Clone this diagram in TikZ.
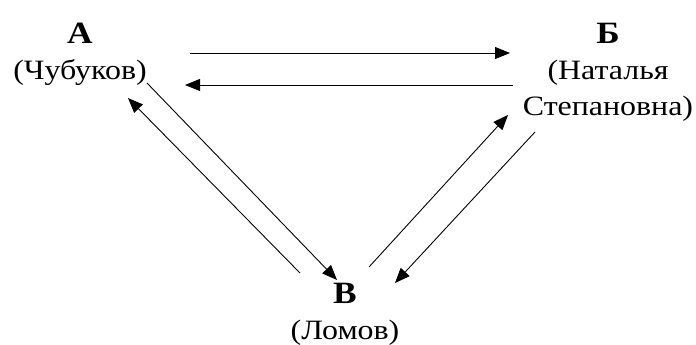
\documentclass[tikz,border=0pt]{standalone}
\usepackage{fontspec}
\setmainfont{Liberation Serif}[FakeStretch=1.14]
\usetikzlibrary{arrows.meta}
\newcommand{\rolemark}[1]{{\fontsize{31}{36}\selectfont\textbf{#1}}}

\begin{document}
\begin{tikzpicture}[
  x=1pt, y=-1pt,
  person/.style={align=center, inner sep=0pt, font=\fontsize{28}{36}\selectfont},
  link/.style={line width=0.9pt, -{Triangle[length=15pt, width=12pt]}}
]
\useasboundingbox (0,0) rectangle (696,345);

% Characters
\node[person] (A) at (80, 54) {\rolemark{А}\\(Чубуков)};
\node[person] (B) at (608, 72) {\rolemark{Б}\\(Наталья\\Степановна)};
\node[person] (V) at (345, 314.5) {\rolemark{В}\\(Ломов)};

% Arrow ends
\coordinate (ab1) at (190, 53);  \coordinate (ab2) at (510, 53);
\coordinate (ba1) at (513, 85);  \coordinate (ba2) at (185, 85);
\coordinate (av1) at (147, 83);  \coordinate (av2) at (337, 280);
\coordinate (va1) at (300, 273); \coordinate (va2) at (128, 98);
\coordinate (vb1) at (369, 267); \coordinate (vb2) at (508, 115);
\coordinate (bv1) at (535, 132); \coordinate (bv2) at (395, 283);

% Relations
\draw[link] (ab1) -- (ab2);
\draw[link] (ba1) -- (ba2);
\draw[link] (av1) -- (av2);
\draw[link] (va1) -- (va2);
\draw[link] (vb1) -- (vb2);
\draw[link] (bv1) -- (bv2);
\end{tikzpicture}
\end{document}
